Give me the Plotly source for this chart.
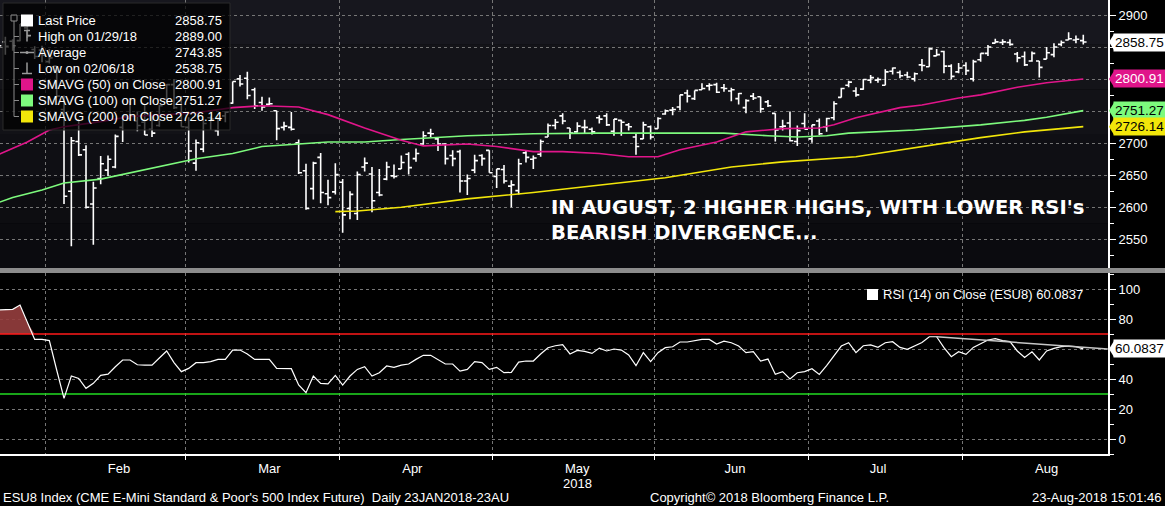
import pandas as pd
import plotly.graph_objects as go

# ESU8 daily bars, 23 Jan 2018 - 23 Aug 2018 (trading days only)
HOLIDAYS = ["2018-02-19", "2018-03-30", "2018-05-28", "2018-07-04"]
trade_days = pd.bdate_range("2018-01-23", "2018-08-23", freq="C", holidays=HOLIDAYS)

opens = [2849, 2859, 2860, 2861, 2881, 2847, 2846,
         2828, 2821, 2753, 2625, 2703, 2690, 2605, 2645, 2658, 2663, 2725, 2739, 2735, 2733, 2722, 2728, 2769, 2792, 2766,
         2725, 2669, 2691, 2740, 2720, 2743, 2763, 2801, 2802, 2784, 2764, 2761, 2751, 2725, 2725, 2701, 2657, 2629, 2678, 2621, 2624,
         2639, 2598, 2590, 2663, 2652, 2623, 2644, 2649, 2660, 2683, 2676, 2699, 2716, 2707, 2699, 2681, 2687, 2641, 2658, 2681, 2689,
         2648, 2659, 2633, 2626, 2685, 2675, 2683, 2710, 2728, 2743, 2724, 2718, 2725, 2722, 2740, 2743, 2719, 2736, 2729, 2710, 2707, 2726,
         2723, 2746, 2752, 2757, 2779, 2770, 2784, 2790, 2792, 2787, 2782, 2770, 2756, 2774, 2773, 2765, 2747, 2726, 2732, 2703, 2731,
         2707, 2735, 2726, 2740, 2772, 2791, 2782, 2785, 2799, 2799, 2791, 2813, 2811, 2807, 2801, 2823, 2820, 2837, 2844, 2821, 2812,
         2822, 2801, 2831, 2841, 2857, 2858, 2858, 2840, 2836, 2829, 2829, 2832, 2839, 2855, 2862, 2862, 2861]
highs = [2856, 2867, 2863, 2887, 2889, 2852, 2853,
         2848, 2821, 2775, 2710, 2738, 2697, 2640, 2680, 2681, 2714, 2744, 2766, 2750, 2760, 2743, 2760, 2793, 2801, 2774,
         2741, 2706, 2738, 2742, 2741, 2750, 2797, 2807, 2812, 2787, 2773, 2772, 2751, 2734, 2749, 2706, 2668, 2671, 2685, 2643, 2669,
         2644, 2625, 2656, 2678, 2663, 2660, 2671, 2667, 2681, 2686, 2692, 2719, 2723, 2709, 2700, 2689, 2690, 2651, 2682, 2683, 2689,
         2660, 2666, 2642, 2676, 2688, 2681, 2706, 2731, 2738, 2747, 2724, 2733, 2737, 2725, 2744, 2747, 2738, 2737, 2732, 2716, 2734, 2728,
         2741, 2753, 2757, 2776, 2784, 2783, 2794, 2794, 2795, 2793, 2787, 2779, 2769, 2779, 2773, 2768, 2747, 2737, 2750, 2728, 2747,
         2729, 2739, 2740, 2766, 2787, 2798, 2788, 2801, 2807, 2803, 2816, 2819, 2814, 2812, 2811, 2832, 2850, 2848, 2845, 2824, 2826,
         2827, 2831, 2841, 2854, 2864, 2863, 2863, 2843, 2844, 2844, 2829, 2851, 2857, 2861, 2874, 2869, 2870]
lows = [2845, 2839, 2845, 2860, 2865, 2832, 2827,
        2825, 2772, 2605, 2538.75, 2680, 2598, 2541, 2636, 2649, 2661, 2702, 2737, 2719, 2713, 2710, 2726, 2766, 2754, 2726,
        2670, 2657, 2686, 2721, 2712, 2733, 2762, 2789, 2769, 2754, 2751, 2760, 2705, 2720, 2720, 2652, 2596, 2612, 2606, 2603, 2620,
        2560, 2581, 2580, 2656, 2592, 2617, 2642, 2645, 2660, 2651, 2671, 2698, 2710, 2688, 2667, 2664, 2623, 2619, 2653, 2665, 2654,
        2630, 2637, 2600, 2620, 2670, 2660, 2679, 2710, 2722, 2730, 2707, 2717, 2716, 2714, 2731, 2727, 2712, 2712, 2720, 2682, 2707, 2706,
        2723, 2745, 2744, 2752, 2764, 2768, 2784, 2783, 2779, 2781, 2766, 2761, 2747, 2768, 2748, 2757, 2703, 2720, 2703, 2696, 2722,
        2701, 2713, 2718, 2736, 2772, 2788, 2773, 2784, 2794, 2795, 2791, 2808, 2802, 2802, 2797, 2813, 2820, 2837, 2810, 2800, 2810,
        2807, 2797, 2828, 2837, 2857, 2854, 2853, 2827, 2821, 2828, 2803, 2832, 2835, 2852, 2862, 2857, 2855]
closes = [2853, 2852, 2853, 2887, 2868, 2836, 2838,
          2834, 2774, 2617, 2704, 2682, 2600, 2630, 2668, 2675, 2711, 2743, 2744, 2728, 2713, 2716, 2759, 2792, 2756, 2726,
          2688, 2701, 2731, 2738, 2737, 2749, 2797, 2793, 2775, 2759, 2757, 2762, 2723, 2727, 2722, 2654, 2598, 2669, 2623, 2615, 2651,
          2588, 2620, 2651, 2669, 2610, 2619, 2663, 2648, 2670, 2662, 2684, 2712, 2715, 2699, 2676, 2676, 2641, 2645, 2673, 2676, 2654,
          2660, 2641, 2635, 2668, 2678, 2677, 2703, 2728, 2733, 2735, 2716, 2727, 2725, 2718, 2738, 2729, 2738, 2733, 2726, 2695, 2729, 2710,
          2739, 2751, 2753, 2776, 2774, 2783, 2786, 2791, 2780, 2786, 2784, 2778, 2767, 2771, 2754, 2759, 2721, 2727, 2704, 2720, 2722,
          2729, 2715, 2739, 2762, 2786, 2796, 2776, 2800, 2803, 2800, 2812, 2818, 2806, 2804, 2809, 2822, 2848, 2839, 2821, 2805, 2818,
          2814, 2828, 2841, 2851, 2859, 2859, 2855, 2834, 2823, 2841, 2819, 2842, 2851, 2858, 2864, 2863, 2858.75]

rsi = [86.0, 86.0, 86.5, 89.3, 77.5, 66.4, 66.4,
       65.6, 46.0, 27.1, 42.0, 40.4, 33.8, 37.1, 42.4, 43.3, 48.2, 52.7, 52.7, 49.5, 49.3, 49.3, 54.0, 58.7, 51.0, 44.9,
       47.1, 50.9, 50.9, 51.6, 53.1, 53.1, 59.3, 59.3, 56.7, 53.1, 53.1, 53.1, 47.1, 47.0, 46.9, 36.0, 30.9, 42.0, 37.1, 36.7, 42.4,
       36.0, 42.0, 46.4, 48.2, 42.0, 44.2, 48.7, 47.8, 49.3, 50.0, 53.1, 55.8, 55.8, 53.1, 50.0, 50.0, 45.3, 46.4, 51.6, 50.9, 46.4,
       47.8, 44.2, 44.4, 51.3, 52.0, 52.0, 56.7, 60.9, 62.2, 62.9, 56.7, 59.1, 58.4, 57.1, 60.6, 58.7, 60.0, 59.3, 56.0, 48.9, 57.6, 51.6,
       57.6, 60.9, 61.5, 64.7, 64.7, 65.3, 66.4, 66.4, 63.3, 65.3, 64.2, 62.0, 57.6, 58.2, 52.0, 53.3, 43.1, 44.9, 40.0, 44.2, 44.9,
       46.9, 43.1, 48.9, 55.6, 62.0, 64.2, 57.6, 62.2, 62.7, 61.1, 64.2, 64.9, 61.1, 59.8, 62.2, 64.4, 68.2, 68.2, 60.9, 54.9, 58.2,
       56.4, 61.1, 63.8, 66.0, 66.9, 65.6, 64.9, 58.7, 54.4, 58.2, 52.7, 58.7, 60.4, 61.6, 62.0, 61.6, 60.08]

# moving averages at sample dates
sma50_dates = ["2018-01-23", "2018-01-29", "2018-02-01", "2018-02-05", "2018-02-12", "2018-02-16", "2018-02-26",
               "2018-03-02", "2018-03-09", "2018-03-15", "2018-03-22", "2018-03-28", "2018-04-05", "2018-04-12",
               "2018-04-17", "2018-04-25", "2018-05-01", "2018-05-08", "2018-05-14", "2018-05-21", "2018-05-25",
               "2018-06-01", "2018-06-06", "2018-06-13", "2018-06-19", "2018-06-26", "2018-07-03", "2018-07-06",
               "2018-07-11", "2018-07-19", "2018-07-24", "2018-07-31", "2018-08-03", "2018-08-10", "2018-08-16",
               "2018-08-23"]
sma50 = [2682, 2702, 2721, 2726, 2734, 2742, 2745, 2748, 2756, 2759, 2757, 2745, 2724, 2705, 2696, 2699, 2695, 2687,
         2687, 2684, 2679, 2679, 2690, 2702, 2718, 2723, 2724, 2729, 2740, 2756, 2760, 2771, 2776, 2788, 2795, 2800.91]

sma100_dates = ["2018-01-23", "2018-01-25", "2018-01-31", "2018-02-05", "2018-02-12", "2018-02-16", "2018-02-26",
                "2018-03-02", "2018-03-09", "2018-03-15", "2018-03-22", "2018-03-28", "2018-04-05", "2018-04-12",
                "2018-04-25", "2018-05-08", "2018-05-21", "2018-06-04", "2018-06-14", "2018-06-22", "2018-06-28",
                "2018-07-05", "2018-07-10", "2018-07-23", "2018-08-03", "2018-08-13", "2018-08-16", "2018-08-23"]
sma100 = [2607, 2615, 2627, 2638, 2644, 2654, 2666, 2676, 2684, 2695, 2699, 2702, 2702, 2706, 2712, 2715, 2716,
          2716, 2716, 2712, 2710, 2712, 2716, 2721, 2729, 2736, 2741, 2751.27]

sma200_dates = ["2018-03-29", "2018-04-04", "2018-04-12", "2018-04-25", "2018-05-08", "2018-05-21", "2018-06-04",
                "2018-06-15", "2018-06-26", "2018-07-11", "2018-07-24", "2018-08-03", "2018-08-13", "2018-08-23"]
sma200 = [2593, 2594, 2600, 2613, 2623, 2634, 2646, 2663, 2671, 2679, 2695, 2709, 2718, 2726.14]

trend_dates = ["2018-07-26 12:00", "2018-08-28 20:00"]
trend_rsi = [68.2, 60.08]

legend_labels = ["Last Price", "High on 01/29/18", "Average", "Low on 02/06/18",
                 "SMAVG (50) on Close", "SMAVG (100) on Close", "SMAVG (200) on Close"]
legend_values = ["2858.75", "2889.00", "2743.85", "2538.75", "2800.91", "2751.27", "2726.14"]

price_ticks = [2550, 2600, 2650, 2700, 2750, 2800, 2850, 2900]
price_ticktext = ["2550", "2600", "2650", "2700", "", "", "", "2900"]
rsi_ticks = [0, 20, 40, 60, 80, 100]
rsi_ticktext = ["0", "20", "40", "", "80", "100"]

MAGENTA = "#e0158a"
GREEN = "#7dfa7d"
YELLOW = "#f2e60a"
GRID = "#767676"
FONT = "Liberation Sans"

X_RANGE = ["2018-01-23 18:30", "2018-08-28 20:53"]
BREAKS = [dict(bounds=["sat", "mon"]), dict(values=HOLIDAYS)]

noon = pd.Timedelta(hours=12)
bar_x = trade_days + noon


def px(x):
    return x / 1108


def py(y):
    return 1 - y / 454


fig = go.Figure()

fig.add_trace(go.Ohlc(
    x=bar_x, open=opens, high=highs, low=lows, close=closes,
    increasing=dict(line=dict(color="white", width=1.6)),
    decreasing=dict(line=dict(color="white", width=1.6)),
    tickwidth=0.45, xaxis="x", yaxis="y", hoverinfo="skip",
))
for d, v, c in [(sma200_dates, sma200, YELLOW), (sma100_dates, sma100, GREEN), (sma50_dates, sma50, MAGENTA)]:
    fig.add_trace(go.Scatter(x=pd.to_datetime(d) + noon, y=v, mode="lines",
                             line=dict(color=c, width=1.6), xaxis="x", yaxis="y"))

# RSI overbought shading at the start
ob_x = bar_x[:6]
fig.add_trace(go.Scatter(x=ob_x, y=[70] * 6, mode="lines", line=dict(width=0),
                         xaxis="x2", yaxis="y2"))
fig.add_trace(go.Scatter(x=ob_x, y=[max(v, 70) for v in rsi[:6]], mode="lines", line=dict(width=0),
                         fill="tonexty", fillcolor="rgba(150,62,62,0.9)", xaxis="x2", yaxis="y2"))
# 70 / 30 bands
fig.add_trace(go.Scatter(x=["2018-01-22", X_RANGE[1]], y=[70, 70], mode="lines",
                         line=dict(color="#ff1a1a", width=1.5), xaxis="x2", yaxis="y2"))
fig.add_trace(go.Scatter(x=["2018-01-22", X_RANGE[1]], y=[30, 30], mode="lines",
                         line=dict(color="#22dd22", width=1.5), xaxis="x2", yaxis="y2"))
fig.add_trace(go.Scatter(x=bar_x, y=rsi, mode="lines", line=dict(color="white", width=1.2),
                         xaxis="x2", yaxis="y2"))
fig.add_trace(go.Scatter(x=pd.to_datetime(trend_dates), y=trend_rsi, mode="lines",
                         line=dict(color="#c8c8c8", width=1.5), xaxis="x2", yaxis="y2"))

xcommon = dict(type="date", range=X_RANGE, rangebreaks=BREAKS, dtick="M1", tick0="2018-01-01",
               showgrid=True, gridcolor=GRID, griddash="dot", gridwidth=1, zeroline=False,
               rangeslider=dict(visible=False))
ycommon = dict(side="right", showgrid=True, gridcolor=GRID, griddash="dot", gridwidth=1, zeroline=False,
               showline=True, linecolor="white", linewidth=2, ticks="outside", ticklen=6, tickcolor="white",
               tickmode="array", tickfont=dict(family=FONT, size=13, color="white"))

fig.update_layout(
    width=1165, height=506, margin=dict(l=0, r=57, t=0, b=52, autoexpand=False),
    paper_bgcolor="black", plot_bgcolor="black", showlegend=False,
    font=dict(family=FONT, color="white", size=13),
    xaxis=dict(domain=[0, 1], anchor="y", showticklabels=False, ticks="", showline=False, **xcommon),
    xaxis2=dict(domain=[0, 1], anchor="y2", ticklabelmode="period", tickformat="%b",
                ticks="outside", ticklen=4, tickcolor="white", showline=True, linecolor="white", linewidth=2,
                ticklabelstandoff=-3,
                tickfont=dict(family=FONT, size=13, color="white"), **xcommon),
    yaxis=dict(domain=[1 - 268 / 454, 1], anchor="x", range=[2504.7, 2924.6],
               tickvals=price_ticks, ticktext=price_ticktext,
               minor=dict(dtick=25, ticks="outside", ticklen=4, tickcolor="white", showgrid=False), **ycommon),
    yaxis2=dict(domain=[0, 1 - 273 / 454], anchor="x2", range=[-10, 110.7],
                tickvals=rsi_ticks, ticktext=rsi_ticktext,
                minor=dict(dtick=10, ticks="outside", ticklen=4, tickcolor="white", showgrid=False), **ycommon),
)

shapes = []
# price panel background (slight gradient)
shades = ["#17171e", "#141419", "#121217", "#0f0f14", "#0d0d11", "#0b0b0f"]
for k, c in enumerate(shades):
    shapes.append(dict(type="rect", xref="paper", yref="paper", x0=0, x1=1,
                       y0=py(268 * (k + 1) / len(shades)), y1=py(268 * k / len(shades)),
                       fillcolor=c, line=dict(width=0), layer="below"))
# separator between panels
shapes.append(dict(type="rect", xref="paper", yref="paper", x0=0, x1=1165 / 1108, y0=py(273), y1=py(268),
                   fillcolor="#8c8c8c", line=dict(width=0), layer="above"))

# legend box
shapes.append(dict(type="rect", xref="paper", yref="paper", x0=px(3), x1=px(230), y0=py(130), y1=py(3),
                   fillcolor="rgba(0,0,0,0.72)", line=dict(color="#2a2a2a", width=1), layer="above"))
rows = [20.5 + 16 * k for k in range(7)]
TREE = "#8a8a8a"
shapes.append(dict(type="rect", xref="paper", yref="paper", x0=px(11), x1=px(17), y0=py(21), y1=py(15),
                   line=dict(color=TREE, width=1), layer="above"))
shapes.append(dict(type="line", xref="paper", yref="paper", x0=px(14), x1=px(14), y0=py(21), y1=py(rows[-1]),
                   line=dict(color=TREE, width=1), layer="above"))
for r in rows[1:]:
    shapes.append(dict(type="line", xref="paper", yref="paper", x0=px(14), x1=px(19), y0=py(r), y1=py(r),
                       line=dict(color=TREE, width=1), layer="above"))
icon_fill = ["white", None, None, None, MAGENTA, GREEN, YELLOW]
for r, c in zip(rows, icon_fill):
    if c:
        shapes.append(dict(type="rect", xref="paper", yref="paper", x0=px(21), x1=px(33), y0=py(r + 6), y1=py(r - 6),
                           fillcolor=c, line=dict(width=0), layer="above"))
# high / average / low glyphs
glyph = dict(color="#9a9a9a", width=1.5)
for (x0, y0, x1, y1) in [(27, rows[1] - 6, 27, rows[1] + 5), (24, rows[1] - 6, 30, rows[1] - 6),
                         (27, rows[1] - 1, 31, rows[1] - 1),
                         (20, rows[2], 34, rows[2]),
                         (27, rows[3] - 6, 27, rows[3] + 5), (22, rows[3] + 5, 32, rows[3] + 5)]:
    shapes.append(dict(type="line", xref="paper", yref="paper", x0=px(x0), x1=px(x1), y0=py(y0), y1=py(y1),
                       line=glyph, layer="above"))
shapes.append(dict(type="circle", xref="paper", yref="paper", x0=px(25.5), x1=px(28.5),
                   y0=py(rows[2] + 1.5), y1=py(rows[2] - 1.5), fillcolor="#9a9a9a", line=dict(width=0), layer="above"))

# RSI legend square
shapes.append(dict(type="rect", xref="paper", yref="paper", x0=px(867), x1=px(878), y0=py(300), y1=py(289),
                   fillcolor="white", line=dict(width=0), layer="above"))

annotations = []
for r, lab, val in zip(rows, legend_labels, legend_values):
    annotations.append(dict(xref="paper", yref="paper", x=px(36), y=py(r), xanchor="left", yanchor="middle",
                            text=lab, showarrow=False, font=dict(family=FONT, size=13, color="white")))
    annotations.append(dict(xref="paper", yref="paper", x=px(224), y=py(r), xanchor="right", yanchor="middle",
                            text=val, showarrow=False, font=dict(family=FONT, size=13, color="white")))

# value tags on the right axis
tags = [("y", 2858.75, "2858.75", "white", "black"),
        ("y", 2800.91, "2800.91", MAGENTA, "white"),
        ("y", 2751.27, "2751.27", GREEN, "black"),
        ("y", 2726.14, "2726.14", YELLOW, "black"),
        ("y2", 60.0837, "60.0837", "white", "black")]
for yref, v, t, bg, fg in tags:
    annotations.append(dict(xref="paper", yref=yref, x=1, y=v, xanchor="left", yanchor="middle", xshift=5,
                            text=t, showarrow=False, bgcolor=bg, borderpad=1,
                            font=dict(family=FONT, size=13.5, color=fg)))
    dy = 8 * (419.9 / 268) if yref == "y" else 8 * (120.7 / 181)
    shapes.append(dict(type="path", xref="paper", yref=yref,
                       path=f"M 1.0009,{v} L {1 + 6 / 1108},{v + dy} L {1 + 6 / 1108},{v - dy} Z",
                       fillcolor=bg, line=dict(width=0), layer="above"))

annotations.append(dict(xref="paper", yref="paper", x=px(549), y=py(220), xanchor="left", yanchor="middle",
                        align="left", showarrow=False,
                        text="<b>IN AUGUST, 2 HIGHER HIGHS, WITH LOWER RSI's<br>BEARISH DIVERGENCE...</b>",
                        font=dict(family="DejaVu Sans", size=19.6, color="white")))
annotations.append(dict(xref="paper", yref="paper", x=px(881), y=py(294), xanchor="left", yanchor="middle",
                        text="RSI (14) on Close (ESU8) 60.0837", showarrow=False,
                        font=dict(family=FONT, size=13, color="white")))
annotations.append(dict(xref="x2", yref="paper", x="2018-05-16 12:00", y=py(483), xanchor="center",
                        yanchor="middle", text="2018", showarrow=False,
                        font=dict(family=FONT, size=13, color="white")))
annotations.append(dict(xref="paper", yref="paper", x=px(1), y=py(497), xanchor="left", yanchor="middle",
                        text="ESU8 Index (CME E-Mini Standard &amp; Poor's 500 Index Future)  Daily 23JAN2018-23AU",
                        showarrow=False, font=dict(family=FONT, size=13, color="white")))
annotations.append(dict(xref="paper", yref="paper", x=px(648), y=py(497), xanchor="left", yanchor="middle",
                        text="Copyright\u00a9 2018 Bloomberg Finance L.P.", showarrow=False,
                        font=dict(family=FONT, size=13, color="white")))
annotations.append(dict(xref="paper", yref="paper", x=px(1163), y=py(497), xanchor="right", yanchor="middle",
                        text="23-Aug-2018 15:01:46", showarrow=False,
                        font=dict(family=FONT, size=13, color="white")))

fig.update_layout(shapes=shapes, annotations=annotations)

fig.write_html("out.html", config={"displayModeBar": False},
               post_script="document.body.style.margin='0';document.body.style.background='black';")
